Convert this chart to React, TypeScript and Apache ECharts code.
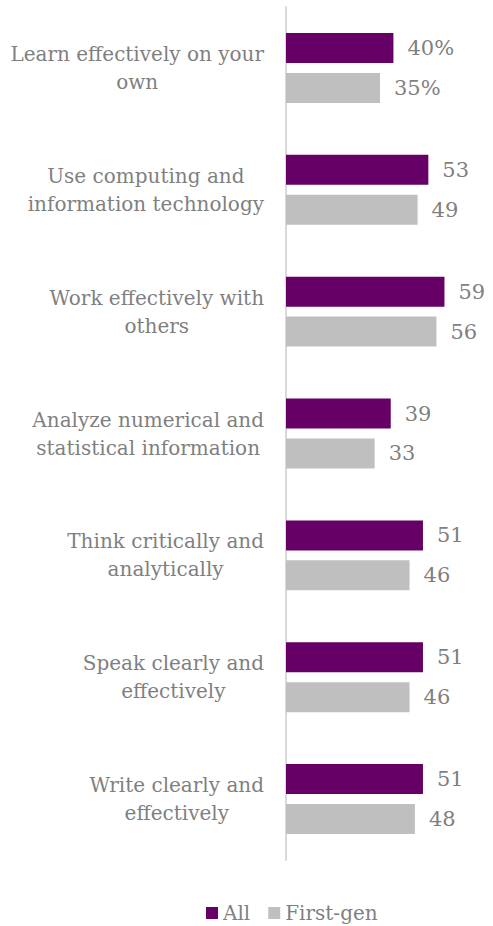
import React, { useEffect, useRef } from "react";
import * as echarts from "echarts";

const categories = [
  "Learn effectively on your\nown",
  "Use computing and\ninformation technology",
  "Work effectively with\nothers",
  "Analyze numerical and\nstatistical information",
  "Think critically and\nanalytically",
  "Speak clearly and\neffectively",
  "Write clearly and\neffectively",
];
const allValues = [40, 53, 59, 39, 51, 51, 51];
const firstGenValues = [35, 49, 56, 33, 46, 46, 48];

const FONT = "DejaVu Serif";
const TEXT = "#7f7f7f";

export default function App() {
  const ref = useRef<HTMLDivElement>(null);
  useEffect(() => {
    const chart = echarts.init(ref.current!, null, { renderer: "svg" });
    const label = {
      show: true,
      position: "right",
      distance: 14,
      color: TEXT,
      fontFamily: FONT,
      fontSize: 21,
      formatter: (p: any) => (p.dataIndex === 0 ? p.value + "%" : String(p.value)),
    };
    chart.setOption({
      animation: false,
      textStyle: { fontFamily: FONT },
      grid: { left: 286, right: 19, top: 7, bottom: 66, containLabel: false },
      legend: {
        left: 201,
        top: 898,
        icon: "rect",
        itemWidth: 12,
        itemHeight: 12,
        itemGap: 18,
        textStyle: { color: TEXT, fontFamily: FONT, fontSize: 20 },
        data: ["All", "First-gen"],
      },
      xAxis: { type: "value", min: 0, max: 70, show: false },
      yAxis: {
        type: "category",
        inverse: true,
        data: categories,
        axisLine: { show: true, lineStyle: { color: "#d9d9d9", width: 2 } },
        axisTick: { show: false },
        axisLabel: {
          color: TEXT,
          fontFamily: FONT,
          fontSize: 20,
          margin: 22,
          align: "right",
          formatter: (v: string) =>
            v
              .split("\n")
              .map((line) => "{c|" + line + "}")
              .join("\n"),
          rich: {
            c: {
              align: "center",
              color: TEXT,
              fontFamily: FONT,
              fontSize: 20,
              lineHeight: 28,
            },
          },
        },
      },
      series: [
        {
          name: "All",
          type: "bar",
          data: allValues,
          barWidth: 30,
          barGap: "33%",
          itemStyle: { color: "#660066" },
          label,
        },
        {
          name: "First-gen",
          type: "bar",
          data: firstGenValues,
          barWidth: 30,
          itemStyle: { color: "#bfbfbf" },
          label,
        },
      ],
    });
    return () => chart.dispose();
  }, []);
  return (
    <div
      ref={ref}
      style={{ position: "absolute", left: 0, top: 0, width: 493, height: 926 }}
    />
  );
}
